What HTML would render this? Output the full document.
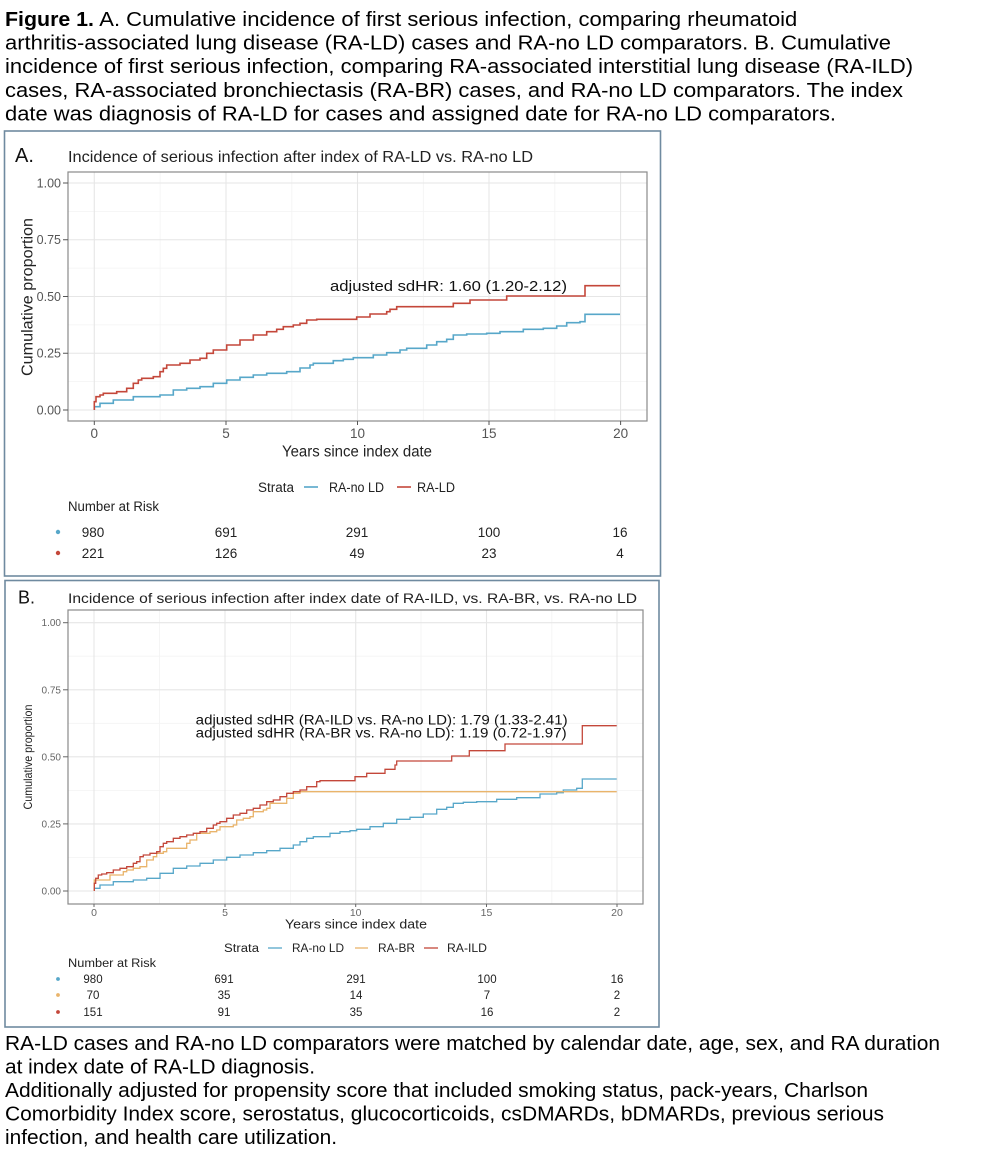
<!DOCTYPE html>
<html><head><meta charset="utf-8"><style>
html,body{margin:0;padding:0;background:#fff;}
svg{display:block;font-family:"Liberation Sans",Arial,sans-serif;}
</style></head><body>
<svg width="996" height="1165" viewBox="0 0 996 1165" xmlns="http://www.w3.org/2000/svg">
<rect x="0" y="0" width="996" height="1165" fill="#fff"/>

<!-- Header caption -->
<g font-size="20" fill="#000">
<text x="5" y="26" font-weight="bold" textLength="89" lengthAdjust="spacingAndGlyphs">Figure 1.</text>
<text x="99.3" y="26" textLength="698" lengthAdjust="spacingAndGlyphs">A. Cumulative incidence of first serious infection, comparing rheumatoid</text>
<text x="5" y="49.6" textLength="886" lengthAdjust="spacingAndGlyphs">arthritis-associated lung disease (RA-LD) cases and RA-no LD comparators. B. Cumulative</text>
<text x="5" y="73.2" textLength="908" lengthAdjust="spacingAndGlyphs">incidence of first serious infection, comparing RA-associated interstitial lung disease (RA-ILD)</text>
<text x="5" y="96.8" textLength="898" lengthAdjust="spacingAndGlyphs">cases, RA-associated bronchiectasis (RA-BR) cases, and RA-no LD comparators. The index</text>
<text x="5" y="120.4" textLength="831" lengthAdjust="spacingAndGlyphs">date was diagnosis of RA-LD for cases and assigned date for RA-no LD comparators.</text>
</g>

<!-- Footer -->
<g font-size="20" fill="#000">
<text x="5" y="1050" textLength="935" lengthAdjust="spacingAndGlyphs">RA-LD cases and RA-no LD comparators were matched by calendar date, age, sex, and RA duration</text>
<text x="5" y="1073.4" textLength="310" lengthAdjust="spacingAndGlyphs">at index date of RA-LD diagnosis.</text>
<text x="5" y="1097.2" textLength="863" lengthAdjust="spacingAndGlyphs">Additionally adjusted for propensity score that included smoking status, pack-years, Charlson</text>
<text x="5" y="1120.7" textLength="879" lengthAdjust="spacingAndGlyphs">Comorbidity Index score, serostatus, glucocorticoids, csDMARDs, bDMARDs, previous serious</text>
<text x="5" y="1144" textLength="332" lengthAdjust="spacingAndGlyphs">infection, and health care utilization.</text>
</g>

<!-- ================= PANEL A ================= -->
<rect x="4.5" y="131" width="656" height="445" fill="#fff" stroke="#6f8aa0" stroke-width="1.6"/>
<text x="15" y="162" font-size="20" fill="#111">A.</text>
<text x="68" y="162" font-size="16" fill="#222" textLength="465" lengthAdjust="spacingAndGlyphs">Incidence of serious infection after index of RA-LD vs. RA-no LD</text>

<!-- plot panel -->
<rect x="68" y="172" width="579" height="249" fill="#fff"/>
<g stroke="#f3f3f3" stroke-width="0.8">
<line x1="160.1" y1="172" x2="160.1" y2="421"/><line x1="291.8" y1="172" x2="291.8" y2="421"/>
<line x1="423.3" y1="172" x2="423.3" y2="421"/><line x1="554.8" y1="172" x2="554.8" y2="421"/>
<line x1="68" y1="381.6" x2="647" y2="381.6"/><line x1="68" y1="324.9" x2="647" y2="324.9"/>
<line x1="68" y1="268.1" x2="647" y2="268.1"/><line x1="68" y1="211.4" x2="647" y2="211.4"/>
</g>
<g stroke="#e6e6e6" stroke-width="1.1">
<line x1="94.3" y1="172" x2="94.3" y2="421"/><line x1="226" y1="172" x2="226" y2="421"/>
<line x1="357.5" y1="172" x2="357.5" y2="421"/><line x1="489" y1="172" x2="489" y2="421"/>
<line x1="620.6" y1="172" x2="620.6" y2="421"/>
<line x1="68" y1="410" x2="647" y2="410"/><line x1="68" y1="353.25" x2="647" y2="353.25"/>
<line x1="68" y1="296.5" x2="647" y2="296.5"/><line x1="68" y1="239.75" x2="647" y2="239.75"/>
<line x1="68" y1="183" x2="647" y2="183"/>
</g>
<rect x="68" y="172" width="579" height="249" fill="none" stroke="#8a8a8a" stroke-width="1.2"/>
<!-- ticks -->
<g stroke="#555" stroke-width="1">
<line x1="63" y1="410" x2="68" y2="410"/><line x1="63" y1="353.25" x2="68" y2="353.25"/>
<line x1="63" y1="296.5" x2="68" y2="296.5"/><line x1="63" y1="239.75" x2="68" y2="239.75"/>
<line x1="63" y1="183" x2="68" y2="183"/>
<line x1="94.3" y1="421" x2="94.3" y2="425"/><line x1="226" y1="421" x2="226" y2="425"/>
<line x1="357.5" y1="421" x2="357.5" y2="425"/><line x1="489" y1="421" x2="489" y2="425"/>
<line x1="620.6" y1="421" x2="620.6" y2="425"/>
</g>
<g font-size="12.5" fill="#555" text-anchor="end">
<text x="61" y="414.5">0.00</text><text x="61" y="357.7">0.25</text>
<text x="61" y="301">0.50</text><text x="61" y="244.2">0.75</text><text x="61" y="187.5">1.00</text>
</g>
<g font-size="13.5" fill="#555" text-anchor="middle">
<text x="94.3" y="438">0</text><text x="226" y="438">5</text><text x="357.5" y="438">10</text>
<text x="489" y="438">15</text><text x="620.6" y="438">20</text>
</g>
<text x="282" y="456.5" font-size="15.5" fill="#222" textLength="150" lengthAdjust="spacingAndGlyphs">Years since index date</text>
<text transform="translate(32.5,297) rotate(-90)" x="-79" y="0" font-size="16" fill="#222" textLength="158" lengthAdjust="spacingAndGlyphs">Cumulative proportion</text>

<!-- curves A -->
<path fill="none" stroke="#57a7c9" stroke-width="1.6" d="M94.3,410 V406.7 H100 V403.3 H113.3 V400 H133.3 V396.7 H160 V395 H173.3 V390 H186.7 V388.3 H200 V386.7 H213.3 V383.3 H226.7 V380 H240 V377.3 H253.3 V375 H266.7 V373.3 H286.7 V371.7 H300 V368 H310 V365 H313.3 V363.3 H333.3 V360.7 H343.3 V359.3 H353.3 V357.7 H373.3 V355 H386.7 V352.7 H400 V350 H406.7 V348.3 H426.7 V345 H436.7 V341.7 H446.7 V339.3 H453.3 V335 H466.7 V334 H486.7 V333.3 H500 V331.7 H523.3 V329.3 H543.3 V328.3 H556.7 V326 H566.7 V322.7 H580 V321.7 H585 V314.3 H620"/>
<path fill="none" stroke="#c4473a" stroke-width="1.6" d="M94.3,410 V401.7 H96 V396.7 H100 V395 H103.3 V393.3 H116.7 V391.7 H126.7 V388.3 H133.3 V383.3 H138.3 V380 H141.7 V378.3 H153.3 V376.7 H160 V371.7 H163.3 V368.3 H166.7 V365 H180 V363.3 H190 V360 H200 V358.3 H206.7 V353.3 H213.3 V350 H226.7 V345 H240 V340 H253.3 V335 H266.7 V331.7 H276.7 V329.3 H283.3 V326.7 H293.3 V325 H300 V323.3 H306.7 V320 H316.7 V319.3 H356.7 V317 H370 V314 H386.7 V311.7 H390 V309.3 H396.7 V306.7 H453.3 V303.3 H470 V300 H506.7 V296 H585 V285.7 H620"/>
<text x="330" y="291" font-size="15" fill="#111" textLength="237" lengthAdjust="spacingAndGlyphs">adjusted sdHR: 1.60 (1.20-2.12)</text>

<!-- legend A -->
<g font-size="13.5" fill="#222">
<text x="258" y="492" textLength="36" lengthAdjust="spacingAndGlyphs">Strata</text>
<text x="329" y="492" textLength="55" lengthAdjust="spacingAndGlyphs">RA-no LD</text>
<text x="417" y="492" textLength="38" lengthAdjust="spacingAndGlyphs">RA-LD</text>
<text x="68" y="511" textLength="91" lengthAdjust="spacingAndGlyphs">Number at Risk</text>
</g>
<line x1="304" y1="487" x2="318" y2="487" stroke="#57a7c9" stroke-width="1.6"/>
<line x1="397" y1="487" x2="411" y2="487" stroke="#c4473a" stroke-width="1.6"/>
<circle cx="58" cy="532" r="2.2" fill="#57a7c9"/>
<circle cx="58" cy="553" r="2.2" fill="#c4473a"/>
<g font-size="13.5" fill="#222" text-anchor="middle">
<text x="93" y="537">980</text><text x="226" y="537">691</text><text x="357" y="537">291</text><text x="489" y="537">100</text><text x="620" y="537">16</text>
<text x="93" y="558">221</text><text x="226" y="558">126</text><text x="357" y="558">49</text><text x="489" y="558">23</text><text x="620" y="558">4</text>
</g>

<!-- ================= PANEL B ================= -->
<rect x="5" y="580.5" width="654" height="446.5" fill="#fff" stroke="#6f8aa0" stroke-width="1.6"/>
<text x="18" y="603.5" font-size="18" fill="#111">B.</text>
<text x="68" y="603" font-size="13.5" fill="#222" textLength="569" lengthAdjust="spacingAndGlyphs">Incidence of serious infection after index date of RA-ILD, vs. RA-BR, vs. RA-no LD</text>

<rect x="68" y="610" width="575" height="294" fill="#fff"/>
<g stroke="#f3f3f3" stroke-width="0.8">
<line x1="159.5" y1="610" x2="159.5" y2="904"/><line x1="290.4" y1="610" x2="290.4" y2="904"/>
<line x1="421" y1="610" x2="421" y2="904"/><line x1="551.8" y1="610" x2="551.8" y2="904"/>
<line x1="68" y1="857.5" x2="643" y2="857.5"/><line x1="68" y1="790.4" x2="643" y2="790.4"/>
<line x1="68" y1="723.3" x2="643" y2="723.3"/><line x1="68" y1="656.2" x2="643" y2="656.2"/>
</g>
<g stroke="#e6e6e6" stroke-width="1.1">
<line x1="94" y1="610" x2="94" y2="904"/><line x1="225" y1="610" x2="225" y2="904"/>
<line x1="355.7" y1="610" x2="355.7" y2="904"/><line x1="486.5" y1="610" x2="486.5" y2="904"/>
<line x1="617" y1="610" x2="617" y2="904"/>
<line x1="68" y1="891" x2="643" y2="891"/><line x1="68" y1="823.9" x2="643" y2="823.9"/>
<line x1="68" y1="756.8" x2="643" y2="756.8"/><line x1="68" y1="689.8" x2="643" y2="689.8"/>
<line x1="68" y1="622.7" x2="643" y2="622.7"/>
</g>
<rect x="68" y="610" width="575" height="294" fill="none" stroke="#8a8a8a" stroke-width="1.2"/>
<g stroke="#666" stroke-width="1">
<line x1="63" y1="891" x2="68" y2="891"/><line x1="63" y1="823.9" x2="68" y2="823.9"/>
<line x1="63" y1="756.8" x2="68" y2="756.8"/><line x1="63" y1="689.8" x2="68" y2="689.8"/>
<line x1="63" y1="622.7" x2="68" y2="622.7"/>
<line x1="94" y1="904" x2="94" y2="907"/><line x1="225" y1="904" x2="225" y2="907"/>
<line x1="355.7" y1="904" x2="355.7" y2="907"/><line x1="486.5" y1="904" x2="486.5" y2="907"/>
<line x1="617" y1="904" x2="617" y2="907"/>
</g>
<g font-size="10" fill="#666" text-anchor="end">
<text x="61" y="894.5">0.00</text><text x="61" y="827.4">0.25</text>
<text x="61" y="760.3">0.50</text><text x="61" y="693.3">0.75</text><text x="61" y="626.2">1.00</text>
</g>
<g font-size="10.5" fill="#666" text-anchor="middle">
<text x="94" y="916">0</text><text x="225" y="916">5</text><text x="355.7" y="916">10</text>
<text x="486.5" y="916">15</text><text x="617" y="916">20</text>
</g>
<text x="285" y="928.5" font-size="13" fill="#222" textLength="142" lengthAdjust="spacingAndGlyphs">Years since index date</text>
<text transform="translate(32,757) rotate(-90)" x="-52.5" y="0" font-size="12" fill="#222" textLength="105" lengthAdjust="spacingAndGlyphs">Cumulative proportion</text>

<!-- curves B -->
<path fill="none" stroke="#57a7c9" stroke-width="1.3" d="M94.3,891 V888.3 H100 V885 H113.3 V881.7 H133.3 V880 H146.7 V878.3 H160 V873.3 H173.3 V868.3 H186.7 V866 H200 V863.3 H213.3 V860 H226.7 V857.3 H240 V855 H253.3 V852.7 H266.7 V850.7 H280 V848.3 H293.3 V845 H300 V841.7 H306.7 V838.3 H313.3 V836.7 H330 V833.3 H340 V831.7 H350 V830.7 H356.7 V829.3 H370 V826.7 H383.3 V823.3 H396.7 V819.3 H410 V817.3 H423.3 V814 H436.7 V809.3 H446.7 V807.3 H453.3 V803.3 H463.3 V802.3 H476.7 V801.7 H496.7 V799.3 H516.7 V797.7 H540 V794 H556.7 V792.7 H563.3 V790 H576.7 V788.3 H582.3 V779 H616.7"/>
<path fill="none" stroke="#e9b46b" stroke-width="1.3" d="M94.3,891 V880 H110 V875 H123.3 V871.7 H126.7 V870 H133.3 V868.3 H140 V866.7 H146.7 V860 H153.3 V856.7 H156.7 V853.3 H163.3 V851.7 H166.7 V848.3 H186.7 V843.3 H190 V840 H196.7 V833.3 H210 V831.7 H216.7 V830 H220 V826.7 H233.3 V825 H236.7 V820 H243.3 V818.3 H250 V816.7 H253.3 V811.7 H263.3 V810 H266.7 V808.3 H270 V803.3 H286.7 V798.3 H293.3 V793.3 H300 V791.7 H616.7"/>
<path fill="none" stroke="#c4473a" stroke-width="1.3" d="M94.3,891 V883.3 H95.7 V878.3 H98.3 V875 H101.7 V874 H106.7 V872.7 H113.3 V870 H120 V868.3 H126.7 V866.7 H133.3 V863.3 H136.7 V861.7 H140 V856.7 H143.3 V855 H150 V853.3 H156.7 V851.7 H160 V846.7 H163.3 V843.3 H166.7 V841.7 H173.3 V838.3 H180 V836.7 H186.7 V835 H193.3 V833.3 H200 V831.7 H206.7 V828.3 H213.3 V825 H216.7 V823.3 H220 V821.7 H226.7 V818.3 H233.3 V815 H240 V813.3 H246.7 V810 H253.3 V808.3 H260 V805 H266.7 V801.7 H273.3 V800 H280 V796.7 H286.7 V793.3 H293.3 V791.7 H300 V790 H306.7 V786.7 H316.7 V781.7 H320 V780.7 H355 V776.7 H366.7 V773.3 H385 V769.3 H395 V765 H396.7 V761 H451.7 V756 H469.3 V750.7 H505 V744 H582.3 V725.7 H616.7"/>
<g font-size="13.5" fill="#111">
<text x="195.7" y="724.5" textLength="372" lengthAdjust="spacingAndGlyphs">adjusted sdHR (RA-ILD vs. RA-no LD): 1.79 (1.33-2.41)</text>
<text x="195.7" y="737.5" textLength="371" lengthAdjust="spacingAndGlyphs">adjusted sdHR (RA-BR vs. RA-no LD): 1.19 (0.72-1.97)</text>
</g>

<!-- legend B -->
<g font-size="11.5" fill="#222">
<text x="224" y="952" textLength="35" lengthAdjust="spacingAndGlyphs">Strata</text>
<text x="292" y="952" textLength="52" lengthAdjust="spacingAndGlyphs">RA-no LD</text>
<text x="378" y="952" textLength="37" lengthAdjust="spacingAndGlyphs">RA-BR</text>
<text x="447" y="952" textLength="40" lengthAdjust="spacingAndGlyphs">RA-ILD</text>
<text x="68" y="967" textLength="88" lengthAdjust="spacingAndGlyphs">Number at Risk</text>
</g>
<line x1="268" y1="948" x2="282" y2="948" stroke="#57a7c9" stroke-width="1.3"/>
<line x1="355" y1="948" x2="368" y2="948" stroke="#e9b46b" stroke-width="1.3"/>
<line x1="424" y1="948" x2="438" y2="948" stroke="#c4473a" stroke-width="1.3"/>
<circle cx="58" cy="979" r="1.9" fill="#57a7c9"/>
<circle cx="58" cy="995" r="1.9" fill="#e9b46b"/>
<circle cx="58" cy="1012" r="1.9" fill="#c4473a"/>
<g font-size="11.5" fill="#222" text-anchor="middle">
<text x="93" y="983">980</text><text x="224" y="983">691</text><text x="356" y="983">291</text><text x="487" y="983">100</text><text x="617" y="983">16</text>
<text x="93" y="999">70</text><text x="224" y="999">35</text><text x="356" y="999">14</text><text x="487" y="999">7</text><text x="617" y="999">2</text>
<text x="93" y="1016">151</text><text x="224" y="1016">91</text><text x="356" y="1016">35</text><text x="487" y="1016">16</text><text x="617" y="1016">2</text>
</g>
</svg>
</body></html>
